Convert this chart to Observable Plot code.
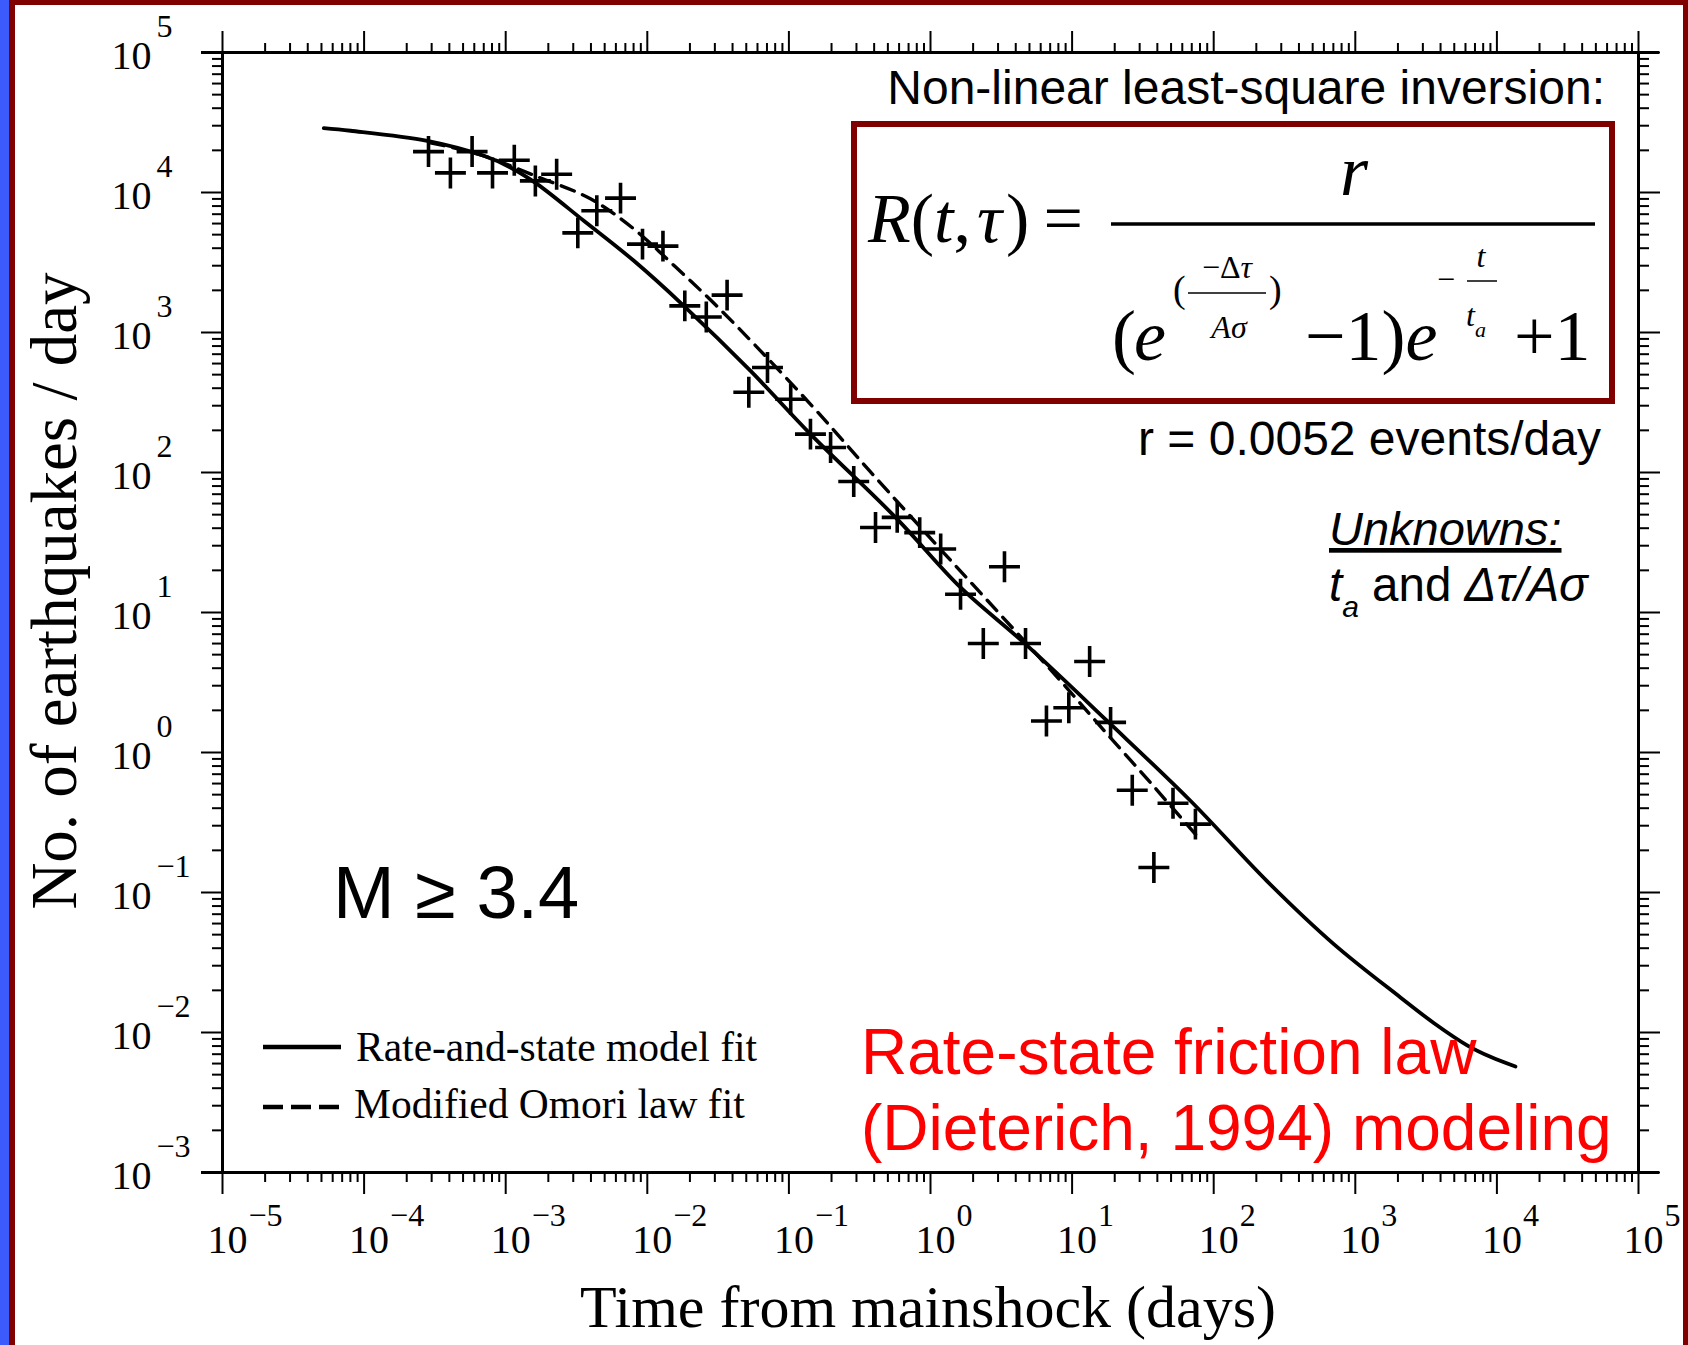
<!DOCTYPE html>
<html>
<head>
<meta charset="utf-8">
<script src="https://cdn.jsdelivr.net/npm/d3@7"></script>
<script src="https://cdn.jsdelivr.net/npm/@observablehq/plot@0.6"></script>
<style>
html, body { margin: 0; padding: 0; background: #fff; overflow: hidden; }
#wrap { position: relative; width: 1688px; height: 1345px; background: #fff; overflow: hidden; }
#wrap svg { position: absolute; left: 0; top: 0; }
.bar { position: absolute; }
</style>
</head>
<body>
<div id="wrap"></div>
<script>
// ---------- data ----------
const xTickExponents = [-5, -4, -3, -2, -1, 0, 1, 2, 3, 4, 5];
const yTickExponents = [-3, -2, -1, 0, 1, 2, 3, 4, 5];
const xDomain = [1e-5, 1e5];
const yDomain = [1e-3, 1e5];

// observed daily rates (crosses)
const obsTime = [2.85e-4, 4.07e-4, 5.79e-4, 8.07e-4, 1.15e-3, 1.62e-3, 2.29e-3, 3.23e-3, 4.40e-3, 6.47e-3,
  9.25e-3, 0.0129, 0.0184, 0.0261, 0.0366, 0.0521, 0.0706, 0.103, 0.142, 0.197,
  0.287, 0.409, 0.582, 0.839, 1.18, 1.63, 2.36, 3.33, 4.69, 6.59,
  9.48, 13.3, 18.7, 26.6, 37.8, 51.6, 74.3];
const obsRate = [19600, 13800, 19600, 13800, 17000, 12100, 13500, 5150, 7400, 9120,
  4280, 4140, 1550, 1290, 1850, 374, 562, 334, 188, 151,
  86.3, 40.5, 47.8, 37.2, 28.4, 13.5, 6.01, 21.2, 6.01, 1.68,
  2.09, 4.47, 1.64, 0.538, 0.151, 0.434, 0.308];

// rate-and-state model fit (solid)
const rsTime = [5.19e-5, 8.02e-5, 2.79e-4, 7.0e-4, 1.08e-3, 1.67e-3, 3.56e-3, 8.04e-3, 0.0181, 0.0536,
  0.142, 0.582, 1.63, 4.69, 17.7, 68.5, 239, 705, 2084, 3581, 6166, 9000, 13520];
const rsRate = [28840, 27610, 23390, 18280, 15100, 11480, 6281, 3251, 1552, 532,
  188, 46.5, 15.1, 5.94, 1.68, 0.452, 0.12, 0.0428, 0.0178, 0.0117, 0.0081, 0.0067, 0.00571];

// modified Omori law fit (dashed)
const omTime = [2.94e-4, 6.64e-4, 1.68e-3, 3.97e-3, 8.0e-3, 0.0158, 0.0303, 0.063, 0.154, 0.377,
  1.24, 3.12, 8.28, 15.9, 35.8, 76.9];
const omRate = [22650, 18580, 12940, 9016, 5508, 2944, 1578, 740, 281, 101,
  26.7, 9.64, 3.25, 1.53, 0.608, 0.250];

// ---------- build ----------
const SERIF = "'Liberation Serif','Times New Roman',Times,serif";
const SANS = "'Liberation Sans',Arial,Helvetica,sans-serif";

const obs = obsTime.map((t, i) => ({t, n: obsRate[i]}));
const rs = rsTime.map((t, i) => ({t, n: rsRate[i]}));
const om = omTime.map((t, i) => ({t, n: omRate[i]}));

const xMajor = xTickExponents.map(e => Math.pow(10, e));
const yMajor = yTickExponents.map(e => Math.pow(10, e));
const xMinor = xTickExponents.slice(0, -1).flatMap(e => d3.range(2, 10).map(m => m * Math.pow(10, e)));
const yMinor = yTickExponents.slice(0, -1).flatMap(e => d3.range(2, 10).map(m => m * Math.pow(10, e)));
const expText = d => { const e = Math.round(Math.log10(d)); return e < 0 ? "\u2212" + (-e) : String(e); };

const chart = Plot.plot({
  width: 1688, height: 1345,
  marginLeft: 222, marginRight: 50, marginTop: 52, marginBottom: 173,
  style: {background: "transparent", color: "#000", overflow: "visible"},
  x: {type: "log", domain: xDomain},
  y: {type: "log", domain: yDomain},
  marks: [
    Plot.axisX({ticks: xMinor, anchor: "bottom", tickSize: 10, strokeWidth: 2, fill: "none"}),
    Plot.axisX({ticks: xMajor, anchor: "bottom", tickSize: 22, strokeWidth: 2, fill: "none"}),
    Plot.axisX({ticks: xMinor, anchor: "top", tickSize: 10, strokeWidth: 2, fill: "none"}),
    Plot.axisX({ticks: xMajor, anchor: "top", tickSize: 22, strokeWidth: 2, fill: "none"}),
    Plot.axisY({ticks: yMinor, anchor: "left", tickSize: 10, strokeWidth: 2, fill: "none"}),
    Plot.axisY({ticks: yMajor, anchor: "left", tickSize: 21, strokeWidth: 2, fill: "none"}),
    Plot.axisY({ticks: yMinor, anchor: "right", tickSize: 10, strokeWidth: 2, fill: "none"}),
    Plot.axisY({ticks: yMajor, anchor: "right", tickSize: 21, strokeWidth: 2, fill: "none"}),
    Plot.ruleX(xDomain, {stroke: "#000", strokeWidth: 3}),
    Plot.ruleY(yDomain, {stroke: "#000", strokeWidth: 3, insetLeft: -21, insetRight: -21}),
    // tick labels 10^n
    Plot.text(xMajor, {x: d => d, frameAnchor: "bottom", text: () => "10", dx: 5, dy: 80,
      lineAnchor: "bottom", textAnchor: "middle", fontSize: 40, fontFamily: SERIF}),
    Plot.text(xMajor, {x: d => d, frameAnchor: "bottom", text: expText, dx: 26, dy: 53,
      lineAnchor: "bottom", textAnchor: "start", fontSize: 32, fontFamily: SERIF}),
    Plot.text(yMajor, {y: d => d, frameAnchor: "left", text: () => "10", dx: -111, dy: 16,
      lineAnchor: "bottom", textAnchor: "start", fontSize: 40, fontFamily: SERIF}),
    Plot.text(yMajor, {y: d => d, frameAnchor: "left", text: expText, dx: -66, dy: -16,
      lineAnchor: "bottom", textAnchor: "start", fontSize: 32, fontFamily: SERIF}),
    // fits and data
    Plot.line(om, {x: "t", y: "n", stroke: "#000", strokeWidth: 3.4, strokeDasharray: "14,9", curve: "catmull-rom"}),
    Plot.line(rs, {x: "t", y: "n", stroke: "#000", strokeWidth: 3.8, curve: "catmull-rom"}),
    Plot.dot(obs, {x: "t", y: "n", symbol: "plus", r: 10, stroke: "#000", strokeWidth: 3.6})
  ]
});

const wrap = document.getElementById("wrap");
wrap.appendChild(chart);

// ---------- annotations ----------
const svg = d3.select(chart);
const g = svg.append("g").attr("class", "annotations");
function txt(x, y, parts, o = {}) {
  const t = g.append("text").attr("x", x).attr("y", y)
    .attr("font-family", o.family || SERIF)
    .attr("font-size", o.size || 40)
    .attr("text-anchor", o.anchor || "start")
    .attr("fill", o.fill || "#000");
  if (o.style) t.attr("font-style", o.style);
  if (o.decoration) t.attr("text-decoration", o.decoration);
  if (o.transform) t.attr("transform", o.transform);
  if (typeof parts === "string") { t.text(parts); return t; }
  for (const p of parts) {
    const s = t.append("tspan").text(p.t);
    if (p.style) s.attr("font-style", p.style);
    if (p.size) s.attr("font-size", p.size);
    if (p.dy) s.attr("dy", p.dy);
    if (p.dx) s.attr("dx", p.dx);
  }
  return t;
}
function ln(x1, y1, x2, y2, w, o = {}) {
  const l = g.append("line").attr("x1", x1).attr("y1", y1).attr("x2", x2).attr("y2", y2)
    .attr("stroke", o.stroke || "#000").attr("stroke-width", w);
  if (o.dash) l.attr("stroke-dasharray", o.dash);
  return l;
}

// axis titles
txt(928, 1327, "Time from mainshock (days)", {size: 60, anchor: "middle"});
txt(0, 0, "No. of earthquakes / day", {size: 65, anchor: "middle", transform: "translate(76,591) rotate(-90)"});

// headline and formula box
txt(1605, 104, "Non-linear least-square inversion:", {family: SANS, size: 48, anchor: "end"});
g.append("rect").attr("x", 854).attr("y", 124).attr("width", 758).attr("height", 277)
  .attr("fill", "none").attr("stroke", "#800000").attr("stroke-width", 6);

// R(t,τ) = r / ((e^(−Δτ/Aσ) − 1) e^(−t/t_a) + 1)
txt(868, 242, [{t: "R", style: "italic"}, {t: "("}, {t: "t", style: "italic"}, {t: ","}, {t: "\u03C4", style: "italic", dx: 6}, {t: ")", dx: 4}, {t: "=", dx: 14}], {size: 70});
ln(1111, 224, 1595, 224, 3.5);
txt(1354, 195, "r", {size: 72, style: "italic", anchor: "middle"});
txt(1112, 360, "(", {size: 72});
txt(1134, 360, "e", {size: 72, style: "italic"});
txt(1173, 302, "(", {size: 38});
txt(1227, 278, [{t: "\u2212"}, {t: "\u0394"}, {t: "\u03C4", style: "italic"}], {size: 32, anchor: "middle"});
ln(1188, 293, 1266, 293, 1.5);
txt(1229, 338, "A\u03C3", {size: 32, style: "italic", anchor: "middle"});
txt(1269, 302, ")", {size: 38});
txt(1305, 360, [{t: "\u22121)"}, {t: "e", style: "italic"}], {size: 72});
txt(1437, 290, "\u2212", {size: 32});
ln(1467, 281, 1497, 281, 1.5);
txt(1481, 267, "t", {size: 32, style: "italic", anchor: "middle"});
txt(1466, 326, [{t: "t", style: "italic"}, {t: "a", style: "italic", size: 22, dy: 11}], {size: 32});
txt(1514, 360, "+1", {size: 72});

// fit results
txt(1601, 455, "r = 0.0052 events/day", {family: SANS, size: 48, anchor: "end"});
txt(1329, 545, "Unknowns:", {family: SANS, size: 47, style: "italic", decoration: "underline"});
txt(1329, 601, [{t: "t", style: "italic"}, {t: "a", style: "italic", size: 30, dy: 16}, {t: " and ", dy: -16}, {t: "\u0394\u03C4/A\u03C3", style: "italic"}], {family: SANS, size: 47.5});

// magnitude threshold
txt(333, 918, "M \u2265 3.4", {family: SANS, size: 74});

// legend
ln(263, 1047, 341, 1047, 4.5);
txt(356, 1061, "Rate-and-state model fit", {size: 41.5});
ln(263, 1107, 339, 1107, 4.5, {dash: "20,8"});
txt(354, 1118, "Modified Omori law fit", {size: 41.5});

// red caption
txt(861, 1074, "Rate-state friction law", {family: SANS, size: 64, fill: "#ff0000"});
txt(861, 1150, "(Dieterich, 1994) modeling", {family: SANS, size: 64, fill: "#ff0000"});

// slide border
function bar(style) { const d = document.createElement("div"); d.className = "bar"; d.setAttribute("style", style); wrap.appendChild(d); }
bar("left:9px;top:0;width:1679px;height:5px;background:#800000");
bar("right:0;top:0;width:5px;height:1345px;background:#800000");
bar("left:9px;top:0;width:6px;height:1345px;background:#800000");
bar("left:0;top:0;width:9px;height:1345px;background:#3b5bfd");
</script>
</body>
</html>
